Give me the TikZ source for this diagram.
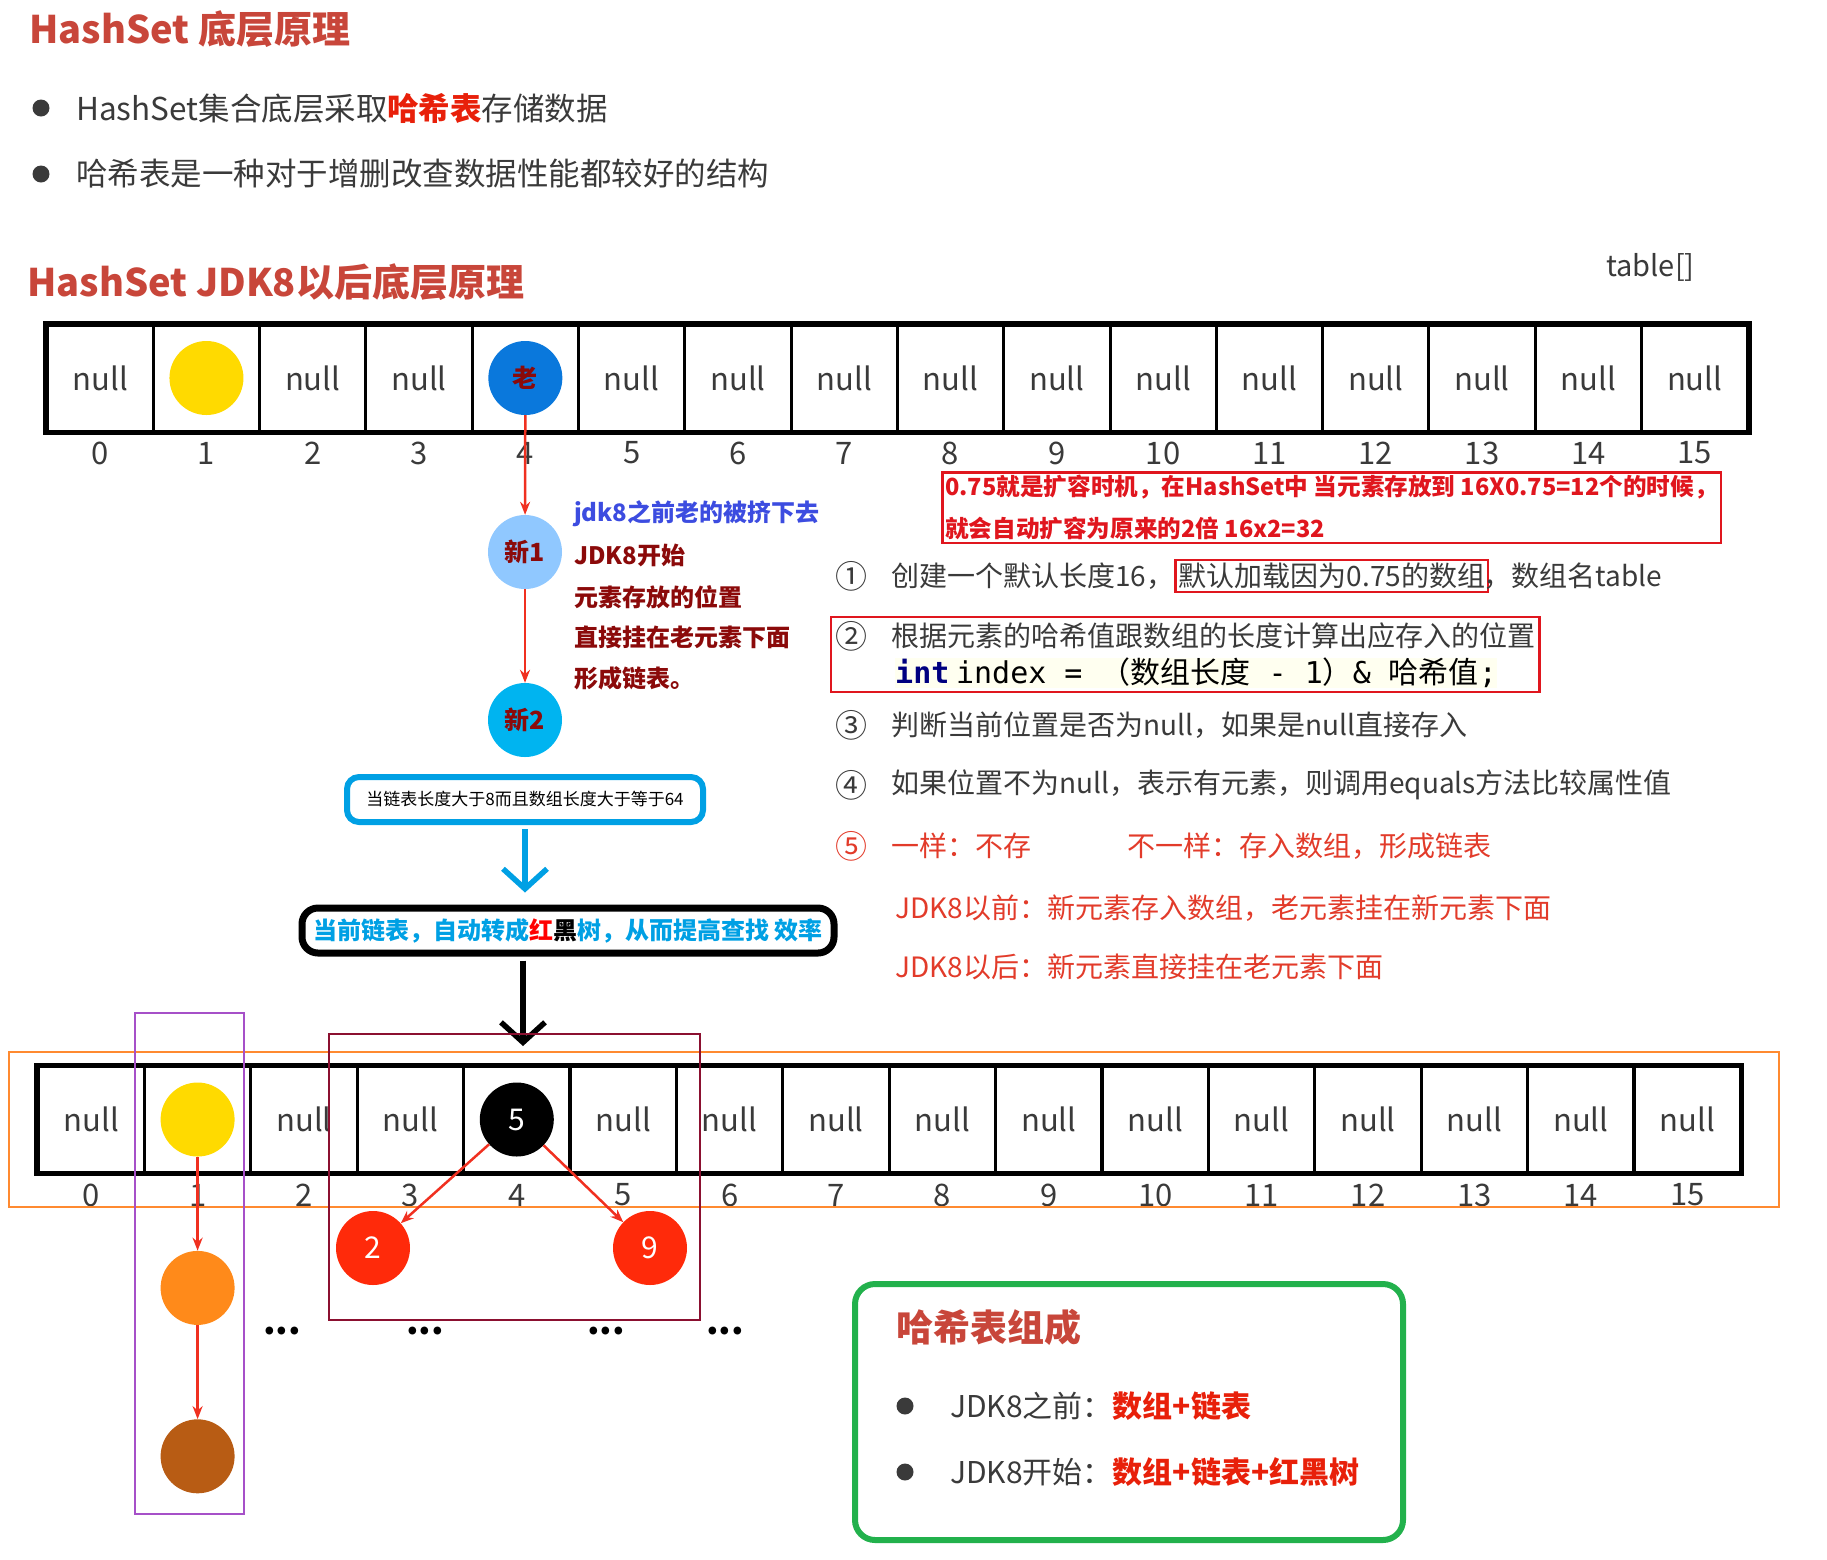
\documentclass[tikz,border=0pt]{standalone}
\usepackage{fontspec}
\setmainfont{Noto Sans CJK SC}
\newfontfamily\codefont{DejaVu Sans Mono}
\usepackage{tikz}
\usetikzlibrary{arrows.meta,positioning,fit}
\usepackage{xcolor}

\definecolor{titlered}{HTML}{C8463A}
\definecolor{bodygray}{HTML}{3A3A3A}
\definecolor{hotred}{HTML}{E8200A}
\definecolor{boxred}{HTML}{E0161E}
\definecolor{stepred}{HTML}{E23B2A}
\definecolor{darkred}{HTML}{8B0A0A}
\definecolor{royal}{HTML}{3C4CE0}
\definecolor{oldblue}{HTML}{0A78DC}
\definecolor{paleblue}{HTML}{90C8FF}
\definecolor{cyanfill}{HTML}{00B4F0}
\definecolor{linkcyan}{HTML}{00A0E4}
\definecolor{linkred}{HTML}{F03020}
\definecolor{gold}{HTML}{FFDA00}
\definecolor{amber}{HTML}{FF8A1A}
\definecolor{rust}{HTML}{B85C14}
\definecolor{treered}{HTML}{FF2A0A}
\definecolor{okgreen}{HTML}{22B14C}
\definecolor{frameorange}{HTML}{FF8A30}
\definecolor{framepurple}{HTML}{A650C8}
\definecolor{framewine}{HTML}{8B1030}
\definecolor{codeblue}{HTML}{000080}
\definecolor{codebg}{HTML}{FFFFF0}

\newcommand{\fsz}[1]{\fontsize{#1}{#1}\selectfont}

\begin{document}
\begin{tikzpicture}[x=1pt,y=-1pt,
    every node/.style={inner sep=0pt, text=bodygray},
    cellbox/.style={draw=black, line width=3pt, minimum width=106.3pt, minimum height=106pt},
    nulltext/.style={font=\fsz{31}},
    idxtext/.style={font=\fsz{31}},
    bodytext/.style={anchor=west, font=\fsz{28}},
    stepnum/.style={font=\fsz{32}},
    notetext/.style={anchor=west, font=\fsz{24}\bfseries, text=darkred},
    ball/.style={circle, minimum size=74pt},
    balltext/.style={font=\fsz{25}\bfseries, text=darkred},
    dotmark/.style={circle, fill=bodygray, minimum size=17pt},
    linkarrow/.style={draw=linkred, line width=2.5pt, -{Stealth[length=13pt,width=10pt]}},
    bigarrow/.style={line width=5.5pt, -{Straight Barb[length=20pt,width=44pt,line width=5.5pt]}}]
  \useasboundingbox (0,0) rectangle (1827,1559);

  % headings
  \node[anchor=west, font=\fsz{38}\bfseries, text=titlered] (title1) at (29,29) {HashSet 底层原理};
  \node[dotmark] (dot1) at (41,108) {};
  \node[anchor=west, font=\fsz{31.5}] (bul1) at (76,108) {HashSet集合底层采取\textcolor{hotred}{\bfseries 哈希表}存储数据};
  \node[dotmark] (dot2) at (41,174) {};
  \node[anchor=west, font=\fsz{31.5}] (bul2) at (76,174) {哈希表是一种对于增删改查数据性能都较好的结构};
  \node[anchor=west, font=\fsz{38}\bfseries, text=titlered] (title2) at (27,282) {HashSet JDK8以后底层原理};
  \node[anchor=west, font=\fsz{29}] (tablename) at (1606,267) {table[]};

  % top table
  \foreach \i in {0,...,15} {
    \node[cellbox] (t\i) at ({47+106.3*(\i+0.5)},378) {};
    \node[idxtext] (ti\i) at ({47+106.3*(\i+0.5)},453) {\i};
  }
  \foreach \i in {0,2,3,5,6,...,15}
    \node[nulltext] (tn\i) at (t\i) {null};
  \draw[line width=4.5pt] (t0.north west) rectangle (t15.south east);

  \node[ball, fill=gold] (topy) at (t1) {};
  \node[ball, fill=oldblue, balltext] (old) at (t4) {老};
  \node[ball, fill=paleblue, balltext] (new1) at (525,552) {新1};
  \node[ball, fill=cyanfill, balltext] (new2) at (525,720) {新2};
  \draw[linkarrow] (old) -- (new1);
  \draw[linkarrow] (new1) -- (new2);

  \node[notetext, text=royal] (note0) at (574,514) {jdk8之前老的被挤下去};
  \node[notetext] (note1) at (574,555) {JDK8开始};
  \node[notetext] (note2) at (574,597) {元素存放的位置};
  \node[notetext] (note3) at (574,637) {直接挂在老元素下面};
  \node[notetext] (note4) at (574,678) {形成链表。};

  % resize note
  \node[anchor=north west, draw=boxred, line width=2.5pt, inner sep=3pt, align=left,
        font=\fontsize{23.6}{42}\selectfont\bfseries, text=boxred] (grow) at (941,471)
        {0.75就是扩容时机，在HashSet中 当元素存放到 16X0.75=12个的时候，\\就会自动扩容为原来的2倍 16x2=32};

  % steps
  \node[stepnum] (n1) at (851,576) {①};
  \node[bodytext] (s1a) at (891,576) {创建一个默认长度16，};
  \node[draw=boxred, line width=2.5pt, inner sep=3pt, font=\fsz{28}, right=0pt of s1a] (s1b) {默认加载因为0.75的数组};
  \node[bodytext, right=-6pt of s1b] (s1c) {，数组名table};

  \node[stepnum] (n2) at (851,636) {②};
  \node[bodytext] (s2a) at (891,636) {根据元素的哈希值跟数组的长度计算出应存入的位置};
  \node[anchor=west, font=\fsz{30}, fill=codebg, text=black] (s2b) at (895,673)
        {{\codefont\bfseries\color{codeblue}int} {\codefont index = }（数组长度{\codefont\ - 1}）{\codefont\& }哈希值{\codefont;}};
  \node[fit=(n2)(s2a)(s2b), draw=boxred, line width=2.5pt, inner sep=4pt] (rule2) {};

  \node[stepnum] (n3) at (851,725) {③};
  \node[bodytext] (s3) at (891,725) {判断当前位置是否为null，如果是null直接存入};
  \node[stepnum] (n4) at (851,785) {④};
  \node[bodytext] (s4) at (891,785) {如果位置不为null，表示有元素，则调用equals方法比较属性值};
  \node[stepnum, text=stepred] (n5) at (851,846) {⑤};
  \node[bodytext, text=stepred] (s5a) at (891,846) {一样：不存};
  \node[bodytext, text=stepred] (s5b) at (1127,846) {不一样：存入数组，形成链表};
  \node[bodytext, text=stepred] (s6) at (895,908) {JDK8以前：新元素存入数组，老元素挂在新元素下面};
  \node[bodytext, text=stepred] (s7) at (895,967) {JDK8以后：新元素直接挂在老元素下面};

  % treeify condition
  \node[draw=linkcyan, line width=6pt, rounded corners=12pt, minimum width=356pt, minimum height=45pt,
        font=\fsz{17}, text=black] (cond) at (525,799.5) {当链表长度大于8而且数组长度大于等于64};
  \node[draw=black, line width=7pt, rounded corners=16pt, minimum width=532pt, minimum height=45pt,
        font=\fsz{24}\bfseries, text=linkcyan] (tree) at (568,930.5)
        {当前链表，自动转成\textcolor{red}{红}\textcolor{black}{黑}树，从而提高查找 效率};
  \draw[bigarrow, linkcyan, shorten <=4pt, shorten >=12pt] (cond.south) -- (cond.south |- tree.north);
  \coordinate (treetip) at (523,1046);
  \draw[bigarrow, black, shorten <=4pt] (tree.south -| treetip) -- (treetip);

  % bottom table
  \foreach \i in {0,...,15} {
    \node[cellbox] (b\i) at ({38+106.4*(\i+0.5)},1119.5) {};
    \node[idxtext] (bi\i) at ({38+106.4*(\i+0.5)},1195) {\i};
  }
  \foreach \i in {0,2,3,5,6,...,15}
    \node[nulltext] (bn\i) at (b\i) {null};
  \draw[line width=4.5pt] (b0.north west) rectangle (b15.south east);

  \draw[frameorange, line width=1.2pt] (9,1052) rectangle (1779,1207);
  \draw[framepurple, line width=1.2pt] (135,1013) rectangle (244,1514);
  \draw[framewine, line width=1.2pt] (329,1034) rectangle (700,1320);

  % linked list in bucket 1
  \node[ball, fill=gold] (listhead) at (b1) {};
  \node[ball, fill=amber, below=94pt of listhead] (listmid) {};
  \node[ball, fill=rust, below=94pt of listmid] (listtail) {};
  \draw[linkarrow] (listhead) -- (listmid);
  \draw[linkarrow] (listmid) -- (listtail);

  % red-black tree in bucket 4
  \node[ball, fill=black, font=\fsz{30}, text=white] (root) at (b4) {5};
  \node[ball, fill=treered, font=\fsz{30}, text=white] (leafl) at (373,1248) {2};
  \node[ball, fill=treered, font=\fsz{30}, text=white] (leafr) at (650,1248) {9};
  \draw[linkarrow] (root) -- (leafl);
  \draw[linkarrow] (root) -- (leafr);

  \foreach \x [count=\k] in {282,425,606,725}
    \node[font=\fsz{36}\bfseries, text=black] (gap\k) at (\x,1331) {...};

  % summary
  \node[draw=okgreen, line width=6pt, rounded corners=20pt, minimum width=548pt, minimum height=256pt] (sumbox) at (1129,1412) {};
  \node[anchor=west, font=\fsz{37}\bfseries, text=titlered] (sumtitle) at (896,1327) {哈希表组成};
  \node[dotmark] (sumdot1) at (905,1406) {};
  \node[anchor=west, font=\fsz{30}] (sum1) at (950,1406) {JDK8之前：\textcolor{hotred}{\bfseries 数组+链表}};
  \node[dotmark] (sumdot2) at (905,1472) {};
  \node[anchor=west, font=\fsz{30}] (sum2) at (950,1472) {JDK8开始：\textcolor{hotred}{\bfseries 数组+链表+红黑树}};
\end{tikzpicture}
\end{document}
